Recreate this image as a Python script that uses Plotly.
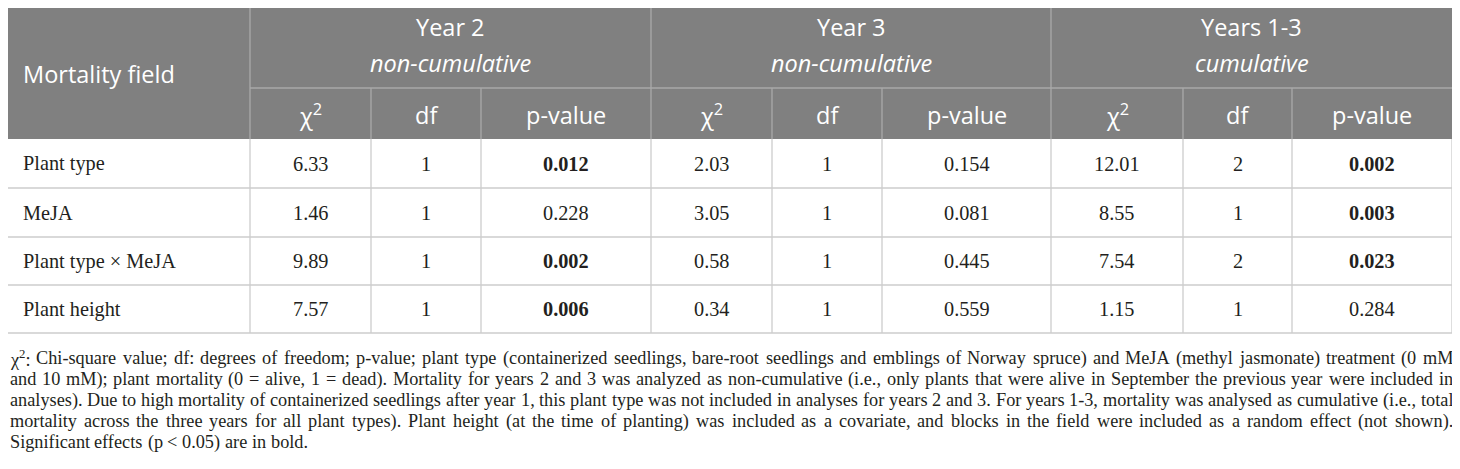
import plotly.graph_objects as go

# ---- table data ----
terms = ["Plant type", "MeJA", "Plant type × MeJA", "Plant height"]

chi2_y2 = [6.33, 1.46, 9.89, 7.57]
df_y2 = [1, 1, 1, 1]
p_y2 = [0.012, 0.228, 0.002, 0.006]

chi2_y3 = [2.03, 3.05, 0.58, 0.34]
df_y3 = [1, 1, 1, 1]
p_y3 = [0.154, 0.081, 0.445, 0.559]

chi2_cum = [12.01, 8.55, 7.54, 1.15]
df_cum = [2, 1, 2, 1]
p_cum = [0.002, 0.003, 0.023, 0.284]

group_titles = ["Year 2", "Year 3", "Years 1-3"]
group_subtitles = ["non-cumulative", "non-cumulative", "cumulative"]
sub_headers = ["χ<sup>2</sup>", "df", "p-value"]
first_header = "Mortality field"

caption_lines = [
    "χ<sup>2</sup>: Chi-square value; df: degrees of freedom; p-value; plant type (containerized seedlings, "
    "bare-root seedlings and emblings of Norway spruce) and MeJA (methyl jasmonate) treatment (0 mM",
    "and 10 mM); plant mortality (0 = alive, 1 = dead). Mortality for years 2 and 3 was analyzed as "
    "non-cumulative (i.e., only plants that were alive in September the previous year were included in",
    "analyses). Due to high mortality of containerized seedlings after year 1, this plant type was not "
    "included in analyses for years 2 and 3. For years 1-3, mortality was analysed as cumulative (i.e., total",
    "mortality across the three years for all plant types). Plant height (at the time of planting) was "
    "included as a covariate, and blocks in the field were included as a random effect (not shown).",
    "Significant effects (p < 0.05) are in bold.",
]

# ---- layout geometry (page pixels) ----
W, H = 1460, 469
PAGE_PAD = 8  # html body margin, axes ranges are offset so data units = page pixels
col_x = [7, 250, 371, 481, 651, 772, 882, 1051, 1183, 1292, 1452]
row_y = [7, 88, 139, 188, 237, 285, 333]
cap_x0 = 8.5
cap_y0, cap_dy = 358, 21

HEAD_BG = "#808080"
HEAD_LINE = "#a9a9a9"
GRID = "#cccccc"
TXT = "#231f20"
SANS = "Open Sans"
SERIF = "Liberation Serif"
HEAD_SIZE = 23.5
BODY_SIZE = 20.3

fig = go.Figure()
shapes = []
ann = []


def line(x0, y0, x1, y1, color):
    shapes.append(dict(type="line", xref="x", yref="y", x0=x0, y0=y0, x1=x1, y1=y1,
                       line=dict(color=color, width=1.3)))


def text(x, y, s, size, font=SERIF, color=TXT, anchor="center"):
    ann.append(dict(x=x, y=y, xref="x", yref="y", text=s, showarrow=False,
                    xanchor=anchor, yanchor="middle", borderpad=0,
                    font=dict(family=font, size=size, color=color)))


# header background
shapes.append(dict(type="rect", xref="x", yref="y", x0=col_x[0], x1=col_x[-1],
                   y0=row_y[0], y1=row_y[2], fillcolor=HEAD_BG, line=dict(width=0), layer="below"))

# header lines
line(col_x[1], row_y[1], col_x[-1], row_y[1], HEAD_LINE)
for i, x in enumerate(col_x[1:-1], start=1):
    top = row_y[0] if (i - 1) % 3 == 0 else row_y[1]
    line(x, top, x, row_y[2], HEAD_LINE)

# body grid
for y in row_y[3:]:
    line(col_x[0], y, col_x[-1], y, GRID)
for x in col_x:
    line(x, row_y[2], x, row_y[-1], GRID)

# header text
text(col_x[0] + 15, (row_y[0] + row_y[2]) / 2 + 1, first_header, HEAD_SIZE, SANS, "white", "left")
for g in range(3):
    cx = (col_x[1 + 3 * g] + col_x[4 + 3 * g]) / 2
    text(cx, 27, group_titles[g], HEAD_SIZE, SANS, "white")
    text(cx, 63, "<i>" + group_subtitles[g] + "</i>", HEAD_SIZE, SANS, "white")
    for k in range(3):
        sx = (col_x[1 + 3 * g + k] + col_x[2 + 3 * g + k]) / 2
        text(sx, (row_y[1] + row_y[2]) / 2 + 1, sub_headers[k], HEAD_SIZE, SANS, "white")

# body cells
columns = [chi2_y2, df_y2, p_y2, chi2_y3, df_y3, p_y3, chi2_cum, df_cum, p_cum]
for r, term in enumerate(terms):
    cy = (row_y[2 + r] + row_y[3 + r]) / 2
    text(col_x[0] + 15, cy, term, BODY_SIZE, anchor="left")
    for c, vals in enumerate(columns):
        v = vals[r]
        kind = c % 3
        if kind == 0:
            s = f"{v:.2f}"
        elif kind == 1:
            s = str(v)
        else:
            s = f"{v:.3f}"
            if v < 0.05:
                s = "<b>" + s + "</b>"
        text((col_x[1 + c] + col_x[2 + c]) / 2, cy, s, BODY_SIZE)

# caption: justified lines, word by word (Times metrics = Liberation Serif)
TNR = {" ": 250, "!": 333, "(": 333, ")": 333, ",": 250, "-": 333, ".": 250, ":": 278, ";": 278,
       "<": 564, "=": 564, ">": 564, "χ": 500, "×": 564}
for ch in "0123456789":
    TNR[ch] = 500
TNR.update(dict(zip("ABCDEFGHIJKLMNOPQRSTUVWXYZ",
                    [722, 667, 667, 722, 611, 556, 722, 722, 333, 389, 722, 611, 889, 722, 722, 556,
                     722, 667, 556, 611, 722, 722, 944, 722, 722, 611])))
TNR.update(dict(zip("abcdefghijklmnopqrstuvwxyz",
                    [444, 500, 444, 500, 444, 333, 500, 500, 278, 278, 500, 278, 778, 500, 500, 500,
                     500, 333, 389, 278, 500, 500, 722, 500, 500, 444])))


def word_em(w):
    total, scale = 0, 1.0
    i = 0
    while i < len(w):
        if w.startswith("<sup>", i):
            scale, i = 0.7, i + 5
            continue
        if w.startswith("</sup>", i):
            scale, i = 1.0, i + 6
            continue
        total += TNR.get(w[i], 500) * scale
        i += 1
    return total / 1000


target = col_x[-1] - cap_x0
natural = [sum(word_em(w) for w in ln.split(" ")) + 0.25 * (len(ln.split(" ")) - 1)
           for ln in caption_lines[:-1]]
cap_size = min(18.6, 0.995 * target / max(natural))

for li, ln in enumerate(caption_lines):
    words = ln.split(" ")
    widths = [word_em(w) * cap_size for w in words]
    if li < len(caption_lines) - 1:
        gap = (target - sum(widths)) / (len(words) - 1)
    else:
        gap = 0.25 * cap_size
    x = cap_x0
    y = cap_y0 + cap_dy * li
    for w, wd in zip(words, widths):
        text(x, y, w, cap_size, anchor="left")
        x += wd + gap

fig.update_layout(
    width=W, height=H,
    margin=dict(l=0, r=0, t=0, b=0),
    paper_bgcolor="white", plot_bgcolor="white",
    xaxis=dict(range=[PAGE_PAD, W + PAGE_PAD], visible=False, fixedrange=True),
    yaxis=dict(range=[H + PAGE_PAD, PAGE_PAD], visible=False, fixedrange=True),
    shapes=shapes, annotations=ann, showlegend=False,
)

fig.write_html("out.html")
